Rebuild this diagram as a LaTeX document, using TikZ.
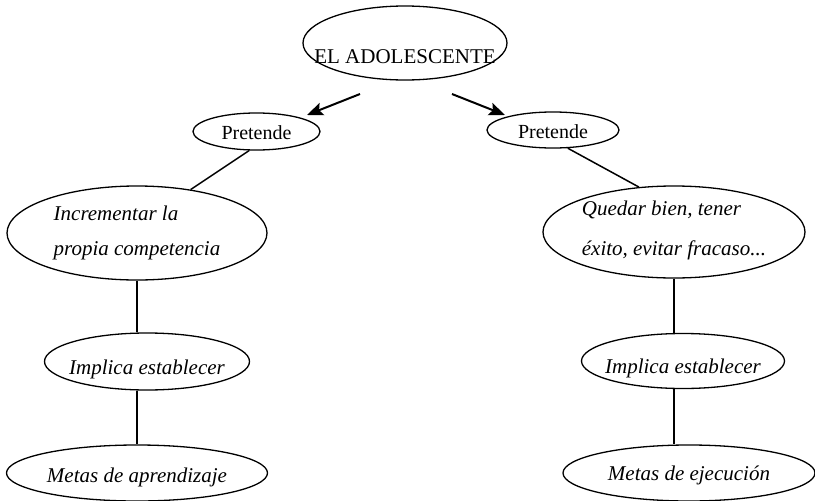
\documentclass[tikz,border=0pt]{standalone}
\usepackage{fontspec}
\setmainfont{Liberation Serif}
\usetikzlibrary{shapes.geometric,arrows.meta,calc}
\newcommand\zt[2]{\makebox[0pt]{\raisebox{#1}[0pt][0pt]{#2}}}
\begin{document}
\begin{tikzpicture}[x=1pt,y=-1pt,
  ov/.style={draw,ellipse,inner sep=0pt,line width=1.3pt},
  rm/.style={font=\fontsize{21}{24}\selectfont},
  it/.style={font=\fontsize{21}{24}\selectfont\itshape},
  cn/.style={line width=1.5pt},
  ar/.style={line width=2pt,-{Stealth[length=16pt,width=13pt,inset=3pt]}}]
\useasboundingbox[fill=white] (0,0) rectangle (815,501);
\node[ov,rm,minimum width=204pt,minimum height=74pt] (top) at (405,43) {\zt{-20pt}{EL ADOLESCENTE}};
\node[ov,font=\fontsize{20}{24}\selectfont,minimum width=127pt,minimum height=37pt] (pl) at (256.5,131.5) {\zt{-8pt}{Pretende}};
\node[ov,font=\fontsize{20}{24}\selectfont,minimum width=132pt,minimum height=36pt] (pr) at (553,130) {\zt{-8pt}{Pretende}};
\node[ov,font=\fontsize{21}{35}\selectfont\itshape,minimum width=260pt,minimum height=94pt] (inc) at (137,233)
  {\zt{-22pt}{\begin{tabular}[b]{@{}l@{}}Incrementar la\\ propia competencia\end{tabular}}};
\node[ov,font=\fontsize{21}{40}\selectfont\itshape,minimum width=262pt,minimum height=92pt] (qb) at (674,232)
  {\zt{-23pt}{\begin{tabular}[b]{@{}l@{}}Quedar bien, tener\\ éxito, evitar fracaso...\end{tabular}}};
\node[ov,it,minimum width=205pt,minimum height=57pt] (il) at (147,361.5) {\zt{-13pt}{Implica establecer}};
\node[ov,it,minimum width=203pt,minimum height=55pt] (ir) at (683,361) {\zt{-12pt}{Implica establecer}};
\node[ov,it,minimum width=261pt,minimum height=56pt] (ma) at (137,473) {\zt{-9pt}{Metas de aprendizaje}};
\node[ov,it,minimum width=252pt,minimum height=56pt] (mr) at (689,473) {\zt{-7pt}{Metas de ejecución}};
\coordinate (a1s) at (360,94);
\coordinate (a1e) at (307,115);
\coordinate (a2s) at (452,94);
\coordinate (a2e) at (505,115);
\draw[ar] (a1s) -- (a1e);
\draw[ar] (a2s) -- (a2e);
\draw[cn] (pl.249) -- (inc.39);
\draw[cn] (pr.309) -- (qb.128);
\draw[cn] (inc.south) -- (inc.south |- il.north);
\draw[cn] (inc.south |- il.south) -- (inc.south |- ma.north);
\draw[cn] (qb.south) -- (qb.south |- ir.north);
\draw[cn] (qb.south |- ir.south) -- (qb.south |- mr.north);
\end{tikzpicture}
\end{document}
